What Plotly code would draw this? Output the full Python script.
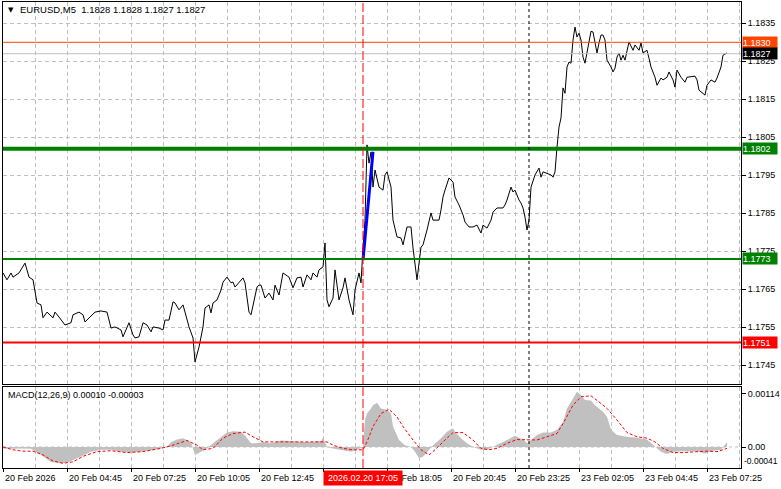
import plotly.graph_objects as go

W, H = 781, 489

# ---------------- data ----------------
price_bar = [0, 2, 4, 5, 8, 11, 13, 15, 17, 19, 20, 22, 25, 26, 28, 31, 34, 35, 38, 40,
             41, 43, 46, 49, 52, 54, 56, 59, 60, 63, 65, 66, 68, 70, 72, 74, 75, 78, 80, 81,
             83, 85, 86, 88, 90, 91, 93, 95, 96, 98, 100, 101, 103, 104, 105, 107, 109, 110, 112, 114,
             115, 116, 118, 120, 121, 123, 124, 125, 127, 128, 129, 131, 133, 135, 136, 138, 140, 143, 145, 147,
             149, 150, 152, 154, 155, 157, 158, 160, 161, 162, 163, 165, 166, 168, 170, 171, 173, 175, 176, 178,
             179, 180, 181, 182, 183, 184, 185, 186, 188, 190, 191, 192, 194, 195, 197, 199, 200, 202, 204, 205,
             207, 209, 210, 212, 214, 215, 218, 219, 220, 221, 223, 225, 226, 228, 230, 231, 233, 235, 237, 239,
             240, 242, 244, 245, 247, 250, 251, 252, 254, 255, 256, 258, 259, 260, 261, 262, 263, 264, 265, 266,
             268, 269, 270, 272, 274, 275, 276, 277, 278, 279, 280, 281, 282, 283, 284, 285, 286, 287, 288, 289,
             290, 291, 292, 293, 294, 295, 296, 297, 298, 299, 300, 301, 302, 304, 305, 306, 307, 308, 309, 310,
             311, 312, 313, 315, 316, 318, 319, 320, 322, 323, 324, 326, 327, 329, 330, 332, 333, 335, 336, 337,
             339, 341, 342, 346, 347, 348, 351, 352, 354, 356, 357, 359, 360, 362]
price_close = [1.17693, 1.17675, 1.17693, 1.17682, 1.17693, 1.17719, 1.17682, 1.17675, 1.17614, 1.17609,
               1.17575, 1.17590, 1.17575, 1.17590, 1.17577, 1.17556, 1.17562, 1.17583, 1.17590, 1.17583,
               1.17564, 1.17575, 1.17590, 1.17593, 1.17590, 1.17548, 1.17551, 1.17543, 1.17525, 1.17562,
               1.17530, 1.17522, 1.17525, 1.17562, 1.17556, 1.17538, 1.17551, 1.17548, 1.17543, 1.17569,
               1.17569, 1.17617, 1.17614, 1.17596, 1.17609, 1.17590, 1.17551, 1.17522, 1.17459, 1.17498,
               1.17551, 1.17601, 1.17609, 1.17588, 1.17614, 1.17622, 1.17648, 1.17669, 1.17682, 1.17667,
               1.17669, 1.17656, 1.17669, 1.17680, 1.17667, 1.17590, 1.17583, 1.17609, 1.17656, 1.17661,
               1.17661, 1.17627, 1.17640, 1.17622, 1.17661, 1.17635, 1.17693, 1.17682, 1.17654, 1.17680,
               1.17682, 1.17656, 1.17688, 1.17675, 1.17693, 1.17682, 1.17701, 1.17709, 1.17772, 1.17622,
               1.17604, 1.17627, 1.17701, 1.17622, 1.17654, 1.17680, 1.17622, 1.17583, 1.17648, 1.17693,
               1.17667, 1.17759, 1.17832, 1.18030, 1.17982, 1.18011, 1.17919, 1.17964, 1.17919, 1.17911,
               1.17951, 1.17959, 1.17919, 1.17832, 1.17788, 1.17785, 1.17767, 1.17814, 1.17814, 1.17759,
               1.17675, 1.17761, 1.17767, 1.17806, 1.17851, 1.17832, 1.17832, 1.17859, 1.17893, 1.17911,
               1.17943, 1.17932, 1.17893, 1.17872, 1.17846, 1.17827, 1.17814, 1.17814, 1.17819, 1.17798,
               1.17819, 1.17811, 1.17832, 1.17853, 1.17864, 1.17864, 1.17872, 1.17885, 1.17919, 1.17906,
               1.17911, 1.17885, 1.17877, 1.17864, 1.17840, 1.17806, 1.17832, 1.17919, 1.17938, 1.17951,
               1.17969, 1.17945, 1.17959, 1.17956, 1.17951, 1.17945, 1.17959, 1.18024, 1.18077, 1.18101,
               1.18180, 1.18166, 1.18235, 1.18248, 1.18245, 1.18306, 1.18340, 1.18314, 1.18324, 1.18306,
               1.18261, 1.18245, 1.18272, 1.18298, 1.18329, 1.18327, 1.18298, 1.18272, 1.18298, 1.18319,
               1.18319, 1.18306, 1.18253, 1.18235, 1.18222, 1.18232, 1.18261, 1.18272, 1.18253, 1.18266,
               1.18253, 1.18279, 1.18301, 1.18279, 1.18293, 1.18279, 1.18298, 1.18272, 1.18279, 1.18258,
               1.18235, 1.18208, 1.18187, 1.18206, 1.18201, 1.18208, 1.18222, 1.18201, 1.18182, 1.18227,
               1.18208, 1.18195, 1.18208, 1.18211, 1.18201, 1.18174, 1.18161, 1.18187, 1.18201, 1.18195,
               1.18206, 1.18235, 1.18266, 1.18272]

trend_bar = [180, 185]
trend_price = [1.17727, 1.18012]

hist_bar = [0, 5, 10, 14, 19, 24, 29, 32, 35, 39, 44, 49, 54, 59, 64, 69, 74, 79, 82, 84,
            87, 90, 94, 96, 99, 102, 105, 109, 112, 115, 119, 121, 124, 127, 130, 134, 139, 144, 149, 154,
            159, 160, 162, 165, 169, 174, 177, 180, 181, 182, 184, 185, 187, 189, 192, 194, 195, 198, 201, 204,
            206, 208, 210, 212, 215, 219, 222, 225, 226, 229, 232, 235, 239, 242, 245, 249, 252, 256, 260, 262,
            264, 267, 270, 274, 277, 280, 282, 285, 287, 289, 291, 294, 296, 300, 302, 304, 307, 312, 317, 322,
            325, 329, 332, 335, 340, 347, 351, 355, 359, 361, 362]
hist_val = [-0.00003, -0.00004, -0.00003, -0.00004, -0.00017, -0.00032, -0.00035, -0.00034, -0.00028, -0.00020,
            -0.00010, -0.00006, -0.00006, -0.00010, -0.00012, -0.00010, -0.00007, -0.00003, 0.0, 0.00010,
            0.00016, 0.00019, 0.00011, -0.00017, -0.00010, -0.00003, 0.00008, 0.00022, 0.00031, 0.00034,
            0.00033, 0.00025, 0.00008, 0.00008, 0.00011, 0.00008, 0.00014, 0.00013, 0.00011, 0.00011,
            0.00013, 0.00020, 0.0, -0.00003, -0.00006, -0.00010, -0.00006, 0.0, 0.00058, 0.00072,
            0.00083, 0.00090, 0.00095, 0.00083, 0.00080, 0.00072, 0.00044, 0.00015, 0.00004, 0.0,
            -0.00010, -0.00024, -0.00021, -0.00010, 0.00004, 0.00019, 0.00033, 0.00040, 0.00033, 0.00019,
            0.00008, 0.0, -0.00006, -0.00006, 0.0, 0.00008, 0.00015, 0.00024, 0.00016, 0.00008,
            0.00015, 0.00026, 0.00031, 0.00031, 0.00037, 0.00054, 0.00083, 0.00105, 0.00119, 0.00112,
            0.00101, 0.00100, 0.00090, 0.00076, 0.00065, 0.00037, 0.00026, 0.00022, 0.00020, 0.00016,
            0.00004, -0.00010, -0.00015, -0.00010, -0.00009, -0.00009, -0.00014, -0.00008, -0.00006, 0.00004,
            0.00010]

sig_bar = [0, 5, 10, 15, 20, 25, 30, 35, 40, 47, 54, 62, 70, 79, 85, 92, 97, 100, 105, 110,
           115, 121, 125, 130, 137, 145, 154, 162, 165, 170, 175, 180, 182, 185, 189, 193, 197, 200, 205, 209,
           213, 216, 220, 225, 230, 235, 239, 243, 247, 252, 257, 262, 267, 272, 277, 280, 285, 289, 294, 298,
           302, 307, 312, 317, 322, 326, 330, 335, 340, 347, 352, 357, 360, 362]
sig_val = [0.0, -0.00006, -0.00009, -0.00009, -0.00017, -0.00030, -0.00035, -0.00032, -0.00020, -0.00010,
           -0.00008, -0.00012, -0.00010, -0.00003, 0.00004, 0.00014, 0.00004, -0.00006, -0.00003, 0.00019,
           0.00029, 0.00032, 0.00022, 0.00011, 0.00011, 0.00011, 0.00011, 0.00011, 0.00004, -0.00003,
           -0.00006, -0.00006, 0.00011, 0.00044, 0.00072, 0.00081, 0.00065, 0.00044, 0.00015, -0.00006,
           -0.00017, -0.00006, 0.00011, 0.00031, 0.00031, 0.00015, -0.00003, -0.00006, -0.00003, 0.00008,
           0.00016, 0.00016, 0.00015, 0.00022, 0.00029, 0.00050, 0.00090, 0.00108, 0.00110, 0.00097,
           0.00083, 0.00058, 0.00031, 0.00022, 0.00019, 0.00011, -0.00003, -0.00012, -0.00012, -0.00010,
           -0.00009, -0.00010, -0.00005, -0.00003]

price_ticks = [1.1745, 1.1755, 1.1765, 1.1775, 1.1785, 1.1795, 1.1805, 1.1815, 1.1825, 1.1835]
price_tick_text = ["1.1745", "1.1755", "1.1765", "1.1775", "1.1785", "1.1795", "1.1805", "1.1815", "1.1825", "1.1835"]

level_values = [1.1830, 1.1827, 1.1802, 1.1773, 1.1751]
level_colors = ["#FF4500", "#C0C0C0", "#008000", "#008000", "#FF0000"]
level_widths = [1, 1, 4, 2, 2]
level_box_bg = ["#FF4500", "#000000", "#008000", "#008000", "#FF0000"]

time_tick_bars = [0, 32, 64, 96, 128, 192, 224, 256, 288, 320, 352]
time_tick_labels = ["20 Feb 2026", "20 Feb 04:45", "20 Feb 07:25", "20 Feb 10:05", "20 Feb 12:45",
                    "20 Feb 18:05", "20 Feb 20:45", "20 Feb 23:25", "23 Feb 02:05", "23 Feb 04:45",
                    "23 Feb 07:25"]
cursor_bar = 180
cursor_label = "2026.02.20 17:05"
separator_bar = 263

macd_ticks = [0.00114, 0.0]
macd_tick_text = ["0.00114", "0.00"]
macd_min_label = "-0.00041"

title_text = "EURUSD,M5  1.1828 1.1828 1.1827 1.1827"
macd_text = "MACD(12,26,9) 0.00010 -0.00003"

# ---------------- figure ----------------
FONT = "Liberation Sans"
fig = go.Figure()
fig.add_trace(go.Scatter(x=hist_bar, y=hist_val, mode="lines", fill="tozeroy",
                         fillcolor="#C0C0C0", line=dict(width=0, color="#C0C0C0"),
                         xaxis="x2", yaxis="y2", hoverinfo="skip"))
fig.add_trace(go.Scatter(x=sig_bar, y=sig_val, mode="lines",
                         line=dict(color="#FF0000", width=1, dash="3px,2px"),
                         xaxis="x2", yaxis="y2"))
fig.add_trace(go.Scatter(x=price_bar, y=price_close, mode="lines",
                         line=dict(color="black", width=1), xaxis="x", yaxis="y"))
fig.add_trace(go.Scatter(x=trend_bar, y=trend_price, mode="lines",
                         line=dict(color="#0000FF", width=3), xaxis="x", yaxis="y"))

y_top_px, y_bot_px = 2, 384
p_at_top = 1.1835 + (23.3 - y_top_px) / 38000
p_at_bot = 1.1835 + (23.3 - y_bot_px) / 38000
m_top_px, m_bot_px, m_zero_px, m_scale = 387, 468, 447, 46500

xdom = [3 / W, 741 / W]
grid = dict(showgrid=True, gridcolor="#C0C0C0", gridwidth=1, griddash="4px,3px")
box = dict(showline=True, mirror=True, linecolor="black", linewidth=1, zeroline=False,
           automargin=False)

minor_vals = [v for v in range(16, 369, 32)]
fig.update_layout(
    width=W, height=H, margin=dict(l=0, r=0, t=0, b=0, pad=0), autosize=False,
    paper_bgcolor="white", plot_bgcolor="white", showlegend=False,
    font=dict(family=FONT, size=9, color="black"),
    xaxis=dict(domain=xdom, range=[0, 369], anchor="y", tickvals=list(range(0, 369, 16)),
               showticklabels=False, ticks="", **grid, **box),
    yaxis=dict(domain=[1 - y_bot_px / H, 1 - y_top_px / H], range=[p_at_bot, p_at_top],
               side="right", anchor="x", tickvals=price_ticks, ticktext=price_tick_text,
               ticks="outside", ticklen=4, tickcolor="black",
               tickfont=dict(family=FONT, size=9, color="black"), **grid, **box),
    xaxis2=dict(domain=xdom, range=[0, 369], anchor="y2", tickvals=list(range(0, 369, 32)),
                showticklabels=False, ticks="outside", ticklen=3, tickcolor="black",
                minor=dict(tickvals=minor_vals, showgrid=True, gridcolor="#C0C0C0",
                           griddash="4px,3px", ticks=""),
                **grid, **box),
    yaxis2=dict(domain=[1 - m_bot_px / H, 1 - m_top_px / H],
                range=[-(m_bot_px - m_zero_px) / m_scale, (m_zero_px - m_top_px) / m_scale],
                side="right", anchor="x2", tickvals=macd_ticks, ticktext=macd_tick_text,
                ticks="outside", ticklen=4, tickcolor="black", showgrid=False,
                tickfont=dict(family=FONT, size=9, color="black"), **box),
)

shapes = []
shapes.append(dict(type="line", xref="x2 domain", yref="y2", x0=0, x1=1, y0=0, y1=0,
                   line=dict(color="#C0C0C0", width=1, dash="3px,3px"), layer="below"))
for v, c, w in zip(level_values, level_colors, level_widths):
    shapes.append(dict(type="line", xref="x domain", yref="y", x0=0, x1=1, y0=v, y1=v,
                       line=dict(color=c, width=w)))
shapes.append(dict(type="line", xref="x", yref="paper", x0=cursor_bar, x1=cursor_bar,
                   y0=1 - m_bot_px / H, y1=1 - y_top_px / H,
                   line=dict(color="#FF0000", width=1, dash="9px,3px")))
shapes.append(dict(type="line", xref="x", yref="paper", x0=separator_bar, x1=separator_bar,
                   y0=1 - m_bot_px / H, y1=1 - y_top_px / H,
                   line=dict(color="black", width=1, dash="3px,3px")))
fig.update_layout(shapes=shapes)

ann = []
for v, bg in zip(level_values, level_box_bg):
    ann.append(dict(xref="paper", yref="y", x=742 / W, y=v, xanchor="left", yanchor="middle",
                    text=f"{v:.4f}", showarrow=False, bgcolor=bg, align="left",
                    width=34, height=11, borderpad=0,
                    font=dict(family=FONT, size=9, color="white")))
for b, t in zip(time_tick_bars, time_tick_labels):
    ann.append(dict(xref="x2", yref="paper", x=b, y=1 - 478 / H, xanchor="left", yanchor="middle",
                    text=t, showarrow=False, font=dict(family=FONT, size=9, color="black")))
ann.append(dict(xref="x2", yref="paper", x=cursor_bar, y=1 - 478 / H, xanchor="center",
                yanchor="middle", text=cursor_label, showarrow=False, bgcolor="#FF0000",
                width=78, height=14, borderpad=0,
                font=dict(family=FONT, size=9, color="white")))
ann.append(dict(xref="paper", yref="paper", x=6 / W, y=1 - 10 / H, xanchor="left", yanchor="middle",
                text="▼", showarrow=False, font=dict(family="DejaVu Sans", size=7, color="black")))
ann.append(dict(xref="paper", yref="paper", x=18 / W, y=1 - 10 / H, xanchor="left", yanchor="middle",
                text=title_text, showarrow=False, font=dict(family=FONT, size=9.5, color="black")))
ann.append(dict(xref="paper", yref="paper", x=6 / W, y=1 - 395 / H, xanchor="left", yanchor="middle",
                text=macd_text, showarrow=False, font=dict(family=FONT, size=9, color="black")))
ann.append(dict(xref="paper", yref="paper", x=742 / W, y=1 - 461 / H, xanchor="left", yanchor="middle",
                text=macd_min_label, showarrow=False, font=dict(family=FONT, size=8.5, color="black")))
fig.update_layout(annotations=ann)

fig.write_html("out.html", config={"displayModeBar": False},
               post_script="document.body.style.margin='0';document.body.style.padding='0';"
                           "document.documentElement.style.overflow='hidden';")
